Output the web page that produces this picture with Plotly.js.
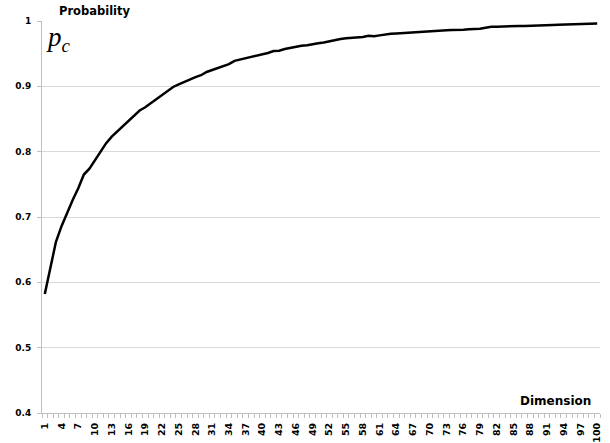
<!DOCTYPE html>
<html>
<head>
<meta charset="utf-8">
<script src="https://cdn.plot.ly/plotly-3.0.1.min.js"></script>
<style>html,body{margin:0;padding:0;background:#fff;}#chart{width:610px;height:443px;}</style>
</head>
<body>
<div id="chart"></div>
<script>
// Dimension 1..100
const dimensions = [];
for (let d = 1; d <= 100; d++) dimensions.push(d);

// Probability p_c
const probability = [
  0.582, 0.622, 0.662, 0.686, 0.707, 0.726, 0.744, 0.765, 0.774, 0.787,
  0.800, 0.813, 0.823, 0.831, 0.839, 0.846, 0.854, 0.863, 0.868, 0.874,
  0.881, 0.886, 0.892, 0.899, 0.903, 0.907, 0.911, 0.914, 0.917, 0.922,
  0.925, 0.928, 0.930, 0.934, 0.939, 0.941, 0.943, 0.944, 0.946, 0.948,
  0.951, 0.954, 0.9545, 0.957, 0.959, 0.961, 0.962, 0.963, 0.965, 0.966,
  0.967, 0.969, 0.971, 0.9725, 0.9735, 0.974, 0.975, 0.9755, 0.9775, 0.9765,
  0.978, 0.9796, 0.9806, 0.981, 0.9816, 0.982, 0.9827, 0.9837, 0.9847, 0.985,
  0.985, 0.9857, 0.986, 0.9862, 0.986, 0.9867, 0.9873, 0.9878, 0.988, 0.9898,
  0.9913, 0.9913, 0.9913, 0.992, 0.992, 0.9923, 0.9925, 0.993, 0.9932, 0.9935,
  0.9938, 0.994, 0.9942, 0.9945, 0.9948, 0.995, 0.9953, 0.996, 0.9962, 0.9963
];

const yAxisTitle = "Probability";
const xAxisTitle = "Dimension";
const seriesLabel = "<i>p<sub>c</sub></i>";

const boldFont = "'DejaVu Sans', sans-serif";

const trace = {
  x: dimensions,
  y: probability,
  type: "scatter",
  mode: "lines",
  line: {color: "#000000", width: 2.5},
  hoverinfo: "x+y"
};

const layout = {
  width: 610,
  height: 443,
  margin: {l: 42, r: 10, t: 21, b: 30},
  paper_bgcolor: "#ffffff",
  plot_bgcolor: "#ffffff",
  showlegend: false,
  font: {family: boldFont, color: "#000000"},
  xaxis: {
    range: [0.5, 100.5],
    tickmode: "linear",
    tick0: 1,
    dtick: 3,
    tickangle: -90,
    ticks: "",
    showgrid: false,
    zeroline: false,
    showline: true,
    linecolor: "#bfbfbf",
    linewidth: 1,
    ticklabelstandoff: 5,
    tickfont: {family: boldFont, size: 9.5, color: "#000000", weight: "bold"},
    minor: {tick0: 0.5, dtick: 1, ticks: "outside", ticklen: 4, tickcolor: "#bfbfbf", tickwidth: 1, showgrid: false}
  },
  yaxis: {
    range: [0.4, 1],
    tickmode: "linear",
    tick0: 0.4,
    dtick: 0.1,
    ticks: "outside",
    ticklen: 4,
    tickcolor: "#bfbfbf",
    tickwidth: 1,
    showgrid: true,
    gridcolor: "#d9d9d9",
    gridwidth: 1,
    zeroline: false,
    showline: true,
    linecolor: "#bfbfbf",
    linewidth: 1,
    ticklabelstandoff: 4,
    tickfont: {family: boldFont, size: 9, color: "#000000", weight: "bold"}
  },
  annotations: [
    {text: yAxisTitle, xref: "paper", yref: "paper", x: 0.027, y: 1.025, xanchor: "left", yanchor: "middle",
     showarrow: false, font: {family: boldFont, size: 11.5, color: "#000000", weight: "bold"}},
    {text: seriesLabel, xref: "paper", yref: "paper", x: 0.003, y: 0.955, xanchor: "left", yanchor: "middle",
     showarrow: false, font: {family: "'Liberation Serif', 'DejaVu Serif', serif", size: 27, color: "#000000"}},
    {text: xAxisTitle, xref: "paper", yref: "paper", x: 0.987, y: 0.03, xanchor: "right", yanchor: "middle",
     showarrow: false, font: {family: boldFont, size: 12, color: "#000000", weight: "bold"}}
  ]
};

Plotly.newPlot("chart", [trace], layout, {displayModeBar: false, staticPlot: true});
</script>
</body>
</html>
